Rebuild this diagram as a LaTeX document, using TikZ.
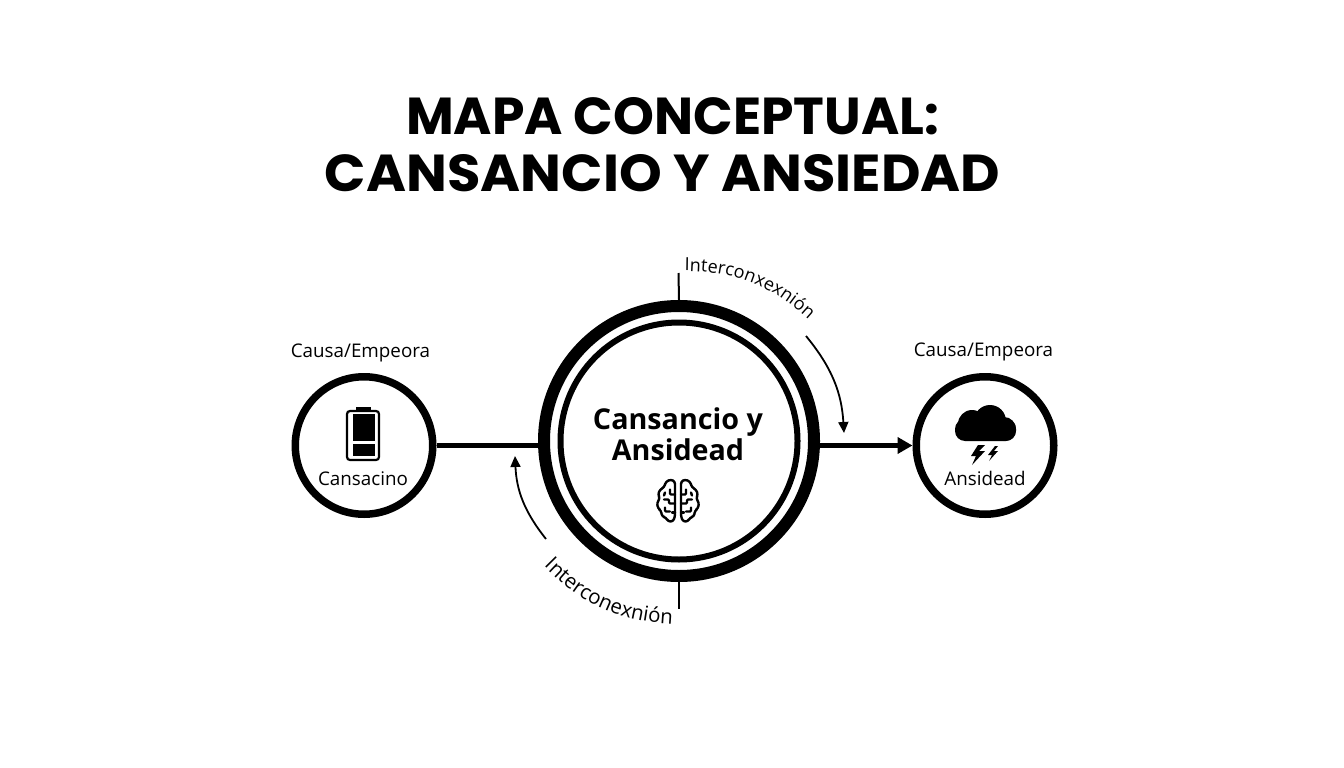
\documentclass[tikz,border=0pt]{standalone}
\usepackage{fontspec}
\usepackage{tikz}
\usetikzlibrary{arrows.meta,decorations.text}
\setmainfont{Open Sans}
\newfontfamily\titlefont{Poppins}
\tikzset{
  titletext/.style={font=\titlefont\bfseries\fontsize{52}{60}\selectfont, inner sep=0pt},
  smalltext/.style={font=\fontsize{18.8}{22}\selectfont, inner sep=0pt},
  sidecircle/.style={circle, draw, line width=7.5pt, minimum size=137.5pt, inner sep=0pt},
  linkline/.style={line width=5pt},
  tickline/.style={line width=2pt},
  turnarrow/.style={line width=1.8pt, -{Triangle[length=11pt,width=10pt]}},
  arctext/.style 2 args={decorate, decoration={text along path, text align=center, text={|\fontsize{#2}{24}\selectfont|#1}}}
}
\begin{document}
\begin{tikzpicture}[x=1pt,y=-1pt]
    \useasboundingbox (0,0) rectangle (1344,768);
    \node[titletext] (titleone) at (672.5,116) {MAPA CONCEPTUAL:};
    \node[titletext, xscale=1.045] (titletwo) at (662.5,173) {CANSANCIO Y ANSIEDAD};

    \node[circle, draw, line width=12pt, minimum size=270pt, inner sep=0pt] (nucleo) at (679,441) {};
    \node[circle, draw, line width=6pt, minimum size=237pt, inner sep=0pt] (nucleoin) at (679,441) {};
    \node[sidecircle] (cansancio) at (364,445.5) {};
    \node[sidecircle] (ansiedad) at (985,445.5) {};

    \node[font=\bfseries\fontsize{28.7}{31}\selectfont, align=center, inner sep=0pt] (nucleotext) at (678,434) {Cansancio y\\Ansidead};
    \node[smalltext] (causaleft) at (360.5,352.5) {Causa/Empeora};
    \node[smalltext] (causaright) at (983.5,351.5) {Causa/Empeora};
    \node[smalltext] (cansanciotext) at (363,478.5) {Cansacino};
    \node[smalltext] (ansiedadtext) at (985,478) {Ansidead};

    \draw[linkline] (cansancio.east) -- (cansancio.east -| nucleo.west);
    \draw[linkline, -{Triangle[length=15pt,width=16pt]}] (ansiedad.west -| nucleo.east) -- (ansiedad.west);

    \coordinate (topmark) at (678.5,273);
    \coordinate (botmark) at (679,609);
    \draw[tickline] (nucleo.north) -- (topmark);
    \draw[tickline] (nucleo.south) -- (botmark);

    \coordinate (toparrowa) at (806,336);
    \coordinate (toparrowb) at (844,433);
    \coordinate (botarrowa) at (546,539);
    \coordinate (botarrowb) at (515,456);
    \draw[turnarrow] (toparrowa) to[bend left=18] (toparrowb);
    \draw[turnarrow] (botarrowa) to[bend left=18] (botarrowb);

    \coordinate (toptexta) at (680,271);
    \coordinate (toptextb) at (812,323);
    \coordinate (bottexta) at (542,564);
    \coordinate (bottextb) at (675,624);
    \path[arctext={Interconxexnión}{18}] (toptexta) to[bend left=22] (toptextb);
    \path[arctext={Interconexnión}{20.5}] (bottexta) to[bend right=22] (bottextb);

    % battery
    \draw[line width=2.2pt, rounded corners=3pt] (347,411) rectangle (379,460);
    \fill (356,407) rectangle (371,411);
    \fill (353,414) rectangle (374.5,440.5);
    \fill (353,444) rectangle (374.5,456);

    % cloud
    \fill[rounded corners=10pt] (955,419) rectangle (1016,441);
    \fill (972,424) circle[radius=14];
    \fill (990,421) circle[radius=16];
    \fill (1004,429) circle[radius=12];
    \fill (978,445) -- (971,456) -- (976,456) -- (972,465) -- (985,451) -- (979,451) -- (985,445) -- cycle;
    \fill (995,446) -- (988,455) -- (992,455) -- (989,461) -- (998,451) -- (994,451) -- (998,446) -- cycle;

    % brain
    \foreach \side in {1,-1} {
      \begin{scope}[shift={(678,500.5)}, xscale=\side, line width=2.4pt, line join=round, line cap=round]
        \draw[rounded corners=2.5pt] (3,-14) -- (3,16) -- (5,21) -- (10,21) -- (12,17) -- (16,16) -- (17,10) -- (20,8) -- (21,2) -- (18,-2) -- (20,-6) -- (18,-11) -- (14,-13) -- (12,-19) -- (7,-21) -- (3,-19) -- cycle;
        \draw[rounded corners=1pt] (3,-6) -- (8,-6) -- (8,-11);
        \draw[rounded corners=1pt] (3,3) -- (9,3) -- (9,-1) -- (14,-1);
        \draw[rounded corners=1pt] (8,11) -- (13,11) -- (13,7);
        \draw (13,-8) -- (14,-5);
        \draw (3,12) -- (6,12);
      \end{scope}
    }
\end{tikzpicture}
\end{document}
